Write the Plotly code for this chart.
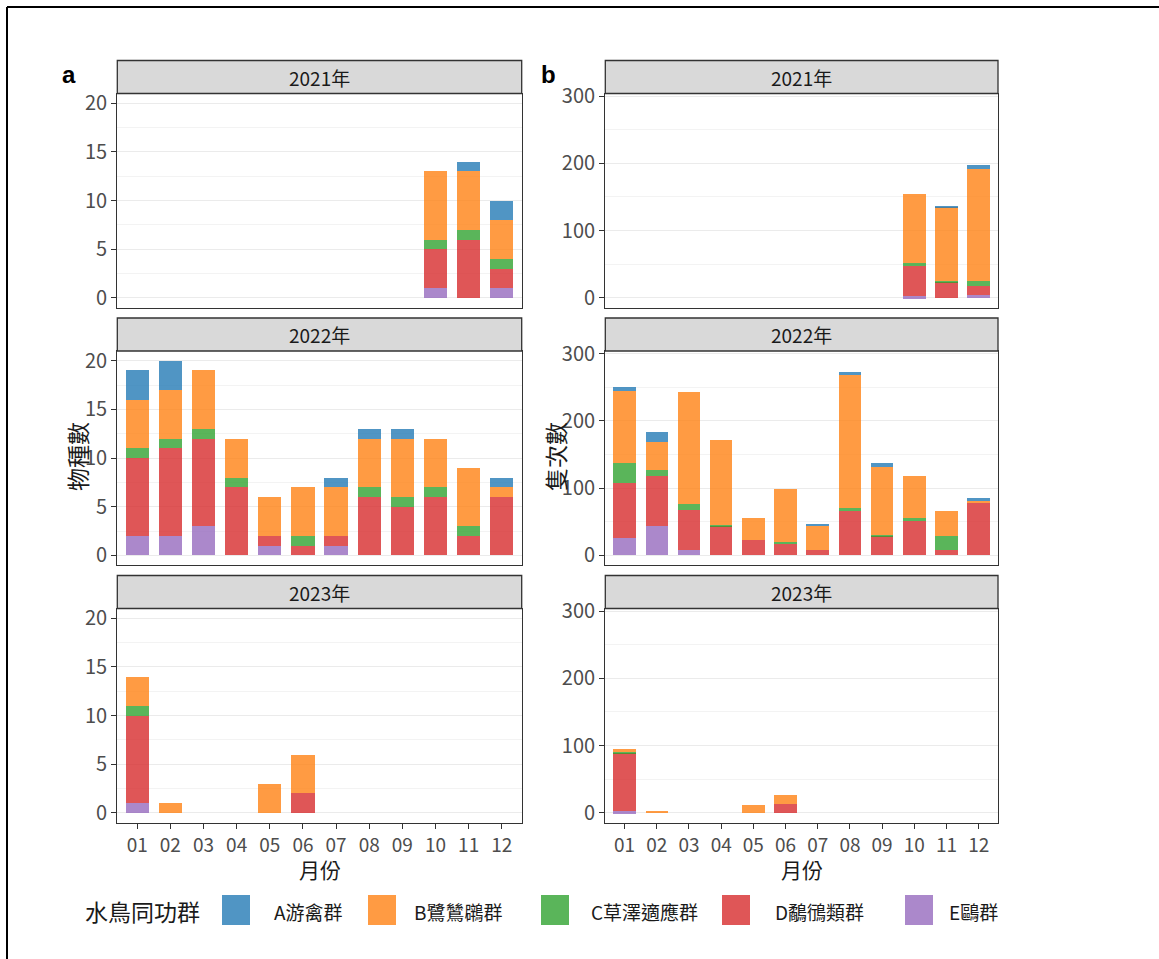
import plotly.graph_objects as go

W, H = 1159, 959
FONT = "Noto Sans CJK TC"

months = ["01", "02", "03", "04", "05", "06", "07", "08", "09", "10", "11", "12"]
years = ["2021年", "2022年", "2023年"]
groups = ["A游禽群", "B鷺鷥鸊群", "C草澤適應群", "D鷸鴴類群", "E鷗群"]
group_colors = ["#1f77b4", "#ff7f0e", "#2ca02c", "#d62728", "#9467bd"]

# ---- panel a: species counts (物種數) ----
sp_2021_A = [0, 0, 0, 0, 0, 0, 0, 0, 0, 0, 1, 2]
sp_2021_B = [0, 0, 0, 0, 0, 0, 0, 0, 0, 7, 6, 4]
sp_2021_C = [0, 0, 0, 0, 0, 0, 0, 0, 0, 1, 1, 1]
sp_2021_D = [0, 0, 0, 0, 0, 0, 0, 0, 0, 4, 6, 2]
sp_2021_E = [0, 0, 0, 0, 0, 0, 0, 0, 0, 1, 0, 1]

sp_2022_A = [3, 3, 0, 0, 0, 0, 1, 1, 1, 0, 0, 1]
sp_2022_B = [5, 5, 6, 4, 4, 5, 5, 5, 6, 5, 6, 1]
sp_2022_C = [1, 1, 1, 1, 0, 1, 0, 1, 1, 1, 1, 0]
sp_2022_D = [8, 9, 9, 7, 1, 1, 1, 6, 5, 6, 2, 6]
sp_2022_E = [2, 2, 3, 0, 1, 0, 1, 0, 0, 0, 0, 0]

sp_2023_A = [0, 0, 0, 0, 0, 0, 0, 0, 0, 0, 0, 0]
sp_2023_B = [3, 1, 0, 0, 3, 4, 0, 0, 0, 0, 0, 0]
sp_2023_C = [1, 0, 0, 0, 0, 0, 0, 0, 0, 0, 0, 0]
sp_2023_D = [9, 0, 0, 0, 0, 2, 0, 0, 0, 0, 0, 0]
sp_2023_E = [1, 0, 0, 0, 0, 0, 0, 0, 0, 0, 0, 0]

# ---- panel b: individual counts (隻次數) ----
ind_2021_A = [0, 0, 0, 0, 0, 0, 0, 0, 0, 0, 2, 6]
ind_2021_B = [0, 0, 0, 0, 0, 0, 0, 0, 0, 103, 110, 167]
ind_2021_C = [0, 0, 0, 0, 0, 0, 0, 0, 0, 4, 1, 8]
ind_2021_D = [0, 0, 0, 0, 0, 0, 0, 0, 0, 45, 24, 13]
ind_2021_E = [0, 0, 0, 0, 0, 0, 0, 0, 0, 2, 0, 4]

ind_2022_A = [6, 15, 0, 0, 0, 0, 3, 5, 5, 0, 0, 4]
ind_2022_B = [108, 42, 167, 126, 32, 80, 36, 198, 102, 63, 38, 3]
ind_2022_C = [29, 9, 8, 2, 0, 2, 0, 4, 2, 4, 21, 0]
ind_2022_D = [83, 74, 60, 43, 23, 17, 8, 66, 28, 51, 7, 78]
ind_2022_E = [25, 44, 8, 0, 0, 0, 0, 0, 0, 0, 0, 0]

ind_2023_A = [0, 0, 0, 0, 0, 0, 0, 0, 0, 0, 0, 0]
ind_2023_B = [4, 3, 0, 0, 12, 13, 0, 0, 0, 0, 0, 0]
ind_2023_C = [2, 0, 0, 0, 0, 0, 0, 0, 0, 0, 0, 0]
ind_2023_D = [87, 0, 0, 0, 0, 13, 0, 0, 0, 0, 0, 0]
ind_2023_E = [2, 0, 0, 0, 0, 0, 0, 0, 0, 0, 0, 0]

species = [
    [sp_2021_A, sp_2021_B, sp_2021_C, sp_2021_D, sp_2021_E],
    [sp_2022_A, sp_2022_B, sp_2022_C, sp_2022_D, sp_2022_E],
    [sp_2023_A, sp_2023_B, sp_2023_C, sp_2023_D, sp_2023_E],
]
individuals = [
    [ind_2021_A, ind_2021_B, ind_2021_C, ind_2021_D, ind_2021_E],
    [ind_2022_A, ind_2022_B, ind_2022_C, ind_2022_D, ind_2022_E],
    [ind_2023_A, ind_2023_B, ind_2023_C, ind_2023_D, ind_2023_E],
]

left_ticks = [0, 5, 10, 15, 20]
left_minor = [2.5, 7.5, 12.5, 17.5]
right_ticks = [0, 100, 200, 300]
right_minor = [50, 150, 250]


def px(x):
    return x / W


def py(y):
    return 1 - y / H


OPACITY = 0.78
col_x = [(117.3, 521.7), (605.3, 998.0)]
row_y = [(93.5, 307.7), (351.0, 565.2), (608.5, 822.7)]
strip_h = 33
yranges = [[-1, 21], [-14.9, 304]]
yticks = [left_ticks, right_ticks]
yminor = [left_minor, right_minor]
datasets = [species, individuals]

fig = go.Figure()
layout = {}
shapes = []
annotations = []

for r in range(3):
    for c in range(2):
        idx = r * 2 + c + 1
        xname = "x" if idx == 1 else f"x{idx}"
        yname = "y" if idx == 1 else f"y{idx}"
        xkey = "xaxis" if idx == 1 else f"xaxis{idx}"
        ykey = "yaxis" if idx == 1 else f"yaxis{idx}"
        vals = datasets[c][r]
        # stack bottom-up: E, D, C, B, A
        for g in [4, 3, 2, 1, 0]:
            fig.add_trace(go.Bar(
                x=months, y=vals[g], name=groups[g],
                marker=dict(color=group_colors[g], opacity=OPACITY, line=dict(width=0)),
                width=0.7, xaxis=xname, yaxis=yname, showlegend=False,
            ))
        bottom = (r == 2)
        x0, x1 = col_x[c]
        ytop, ybot = row_y[r]
        layout[xkey] = dict(
            domain=[px(x0), px(x1)], anchor=yname, type="category",
            categoryorder="array", categoryarray=months, range=[-0.6, 11.6],
            showline=True, mirror=True, linecolor="#333333", linewidth=1.3,
            showgrid=False, zeroline=False,
            ticks="outside" if bottom else "", ticklen=5, tickcolor="#333333",
            showticklabels=bottom, tickfont=dict(size=19, color="#4d4d4d", family=FONT),
        )
        layout[ykey] = dict(
            domain=[py(ybot), py(ytop)], anchor=xname, range=yranges[c],
            tickmode="array", tickvals=yticks[c],
            showline=True, mirror=True, linecolor="#333333", linewidth=1.3,
            showgrid=True, gridcolor="#ebebeb", gridwidth=1, zeroline=False,
            ticks="outside", ticklen=5, tickcolor="#333333",
            tickfont=dict(size=20, color="#4d4d4d", family=FONT),
            minor=dict(tickmode="array", tickvals=yminor[c], showgrid=True,
                       gridcolor="#f3f3f3", gridwidth=1, ticks=""),
        )
        # strip
        shapes.append(dict(type="rect", xref="paper", yref="paper",
                           x0=px(x0), x1=px(x1), y0=py(ytop), y1=py(ytop - strip_h),
                           fillcolor="#d9d9d9", line=dict(color="#333333", width=1.3)))
        annotations.append(dict(xref="paper", yref="paper", x=px((x0 + x1) / 2),
                                y=py(ytop - strip_h / 2), text=years[r], showarrow=False,
                                xanchor="center", yanchor="middle",
                                font=dict(size=19, color="#1a1a1a", family=FONT)))

# panel letters
annotations.append(dict(xref="paper", yref="paper", x=px(69), y=py(74), text="<b>a</b>",
                        showarrow=False, xanchor="center", yanchor="middle",
                        font=dict(size=24, color="black", family="Liberation Sans")))
annotations.append(dict(xref="paper", yref="paper", x=px(548), y=py(74), text="<b>b</b>",
                        showarrow=False, xanchor="center", yanchor="middle",
                        font=dict(size=24, color="black", family="Liberation Sans")))

# y titles
annotations.append(dict(xref="paper", yref="paper", x=px(77), y=py(457), text="物種數",
                        showarrow=False, textangle=-90, xanchor="center", yanchor="middle",
                        font=dict(size=23, color="#1a1a1a", family=FONT)))
annotations.append(dict(xref="paper", yref="paper", x=px(555), y=py(457), text="隻次數",
                        showarrow=False, textangle=-90, xanchor="center", yanchor="middle",
                        font=dict(size=23, color="#1a1a1a", family=FONT)))

# x titles
for c in range(2):
    x0, x1 = col_x[c]
    annotations.append(dict(xref="paper", yref="paper", x=px((x0 + x1) / 2), y=py(869),
                            text="月份", showarrow=False, xanchor="center", yanchor="middle",
                            font=dict(size=21, color="#1a1a1a", family=FONT)))

# legend (manual, large keys)
annotations.append(dict(xref="paper", yref="paper", x=px(83), y=py(911), text="水鳥同功群",
                        showarrow=False, xanchor="left", yanchor="middle",
                        font=dict(size=23, color="#1a1a1a", family=FONT)))
key_x = [222, 368, 541, 722, 905]
text_x = [272, 412, 589, 773, 947]
for g in range(5):
    shapes.append(dict(type="rect", xref="paper", yref="paper",
                       x0=px(key_x[g]), x1=px(key_x[g] + 28), y0=py(925), y1=py(895),
                       fillcolor=group_colors[g], opacity=OPACITY, line=dict(width=0)))
    annotations.append(dict(xref="paper", yref="paper", x=px(text_x[g]), y=py(911),
                            text=groups[g], showarrow=False, xanchor="left", yanchor="middle",
                            font=dict(size=19, color="#1a1a1a", family=FONT)))

# outer frame
shapes.append(dict(type="line", xref="paper", yref="paper", x0=px(7), x1=px(W),
                   y0=py(7), y1=py(7), line=dict(color="black", width=2)))
shapes.append(dict(type="line", xref="paper", yref="paper", x0=px(7), x1=px(7),
                   y0=py(7), y1=0, line=dict(color="black", width=2)))

fig.update_layout(
    **layout,
    barmode="stack",
    width=W, height=H, autosize=False,
    margin=dict(l=0, r=0, t=0, b=0, pad=0, autoexpand=False),
    paper_bgcolor="white", plot_bgcolor="white",
    showlegend=False,
    shapes=shapes, annotations=annotations,
    font=dict(family=FONT),
)

fig.write_html("out.html")
